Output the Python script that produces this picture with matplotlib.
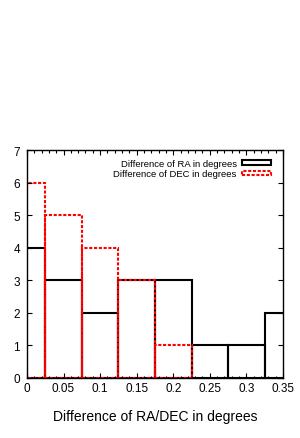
import numpy as np
import matplotlib.pyplot as plt
from matplotlib.patches import Patch
from matplotlib.ticker import MultipleLocator

plt.rcParams['font.family'] = ['Liberation Sans', 'DejaVu Sans']

bin_centers = [0.0, 0.05, 0.10, 0.15, 0.20, 0.25, 0.30, 0.35]
ra_counts = [4, 3, 2, 3, 3, 1, 1, 2]
dec_counts = [6, 5, 4, 3, 1, 0, 0, 0]
xtick_labels = ["0", "0.05", "0.1", "0.15", "0.2", "0.25", "0.3", "0.35"]

fig = plt.figure(figsize=(3.0, 4.39), dpi=100)
ax = fig.add_axes([0.09, 0.1367, 0.853, 0.519])

ax.bar(bin_centers, ra_counts, width=0.05, align='center', fill=False,
       edgecolor='black', linewidth=1.5)
dec_x = [c for c, v in zip(bin_centers, dec_counts) if v > 0]
dec_y = [v for v in dec_counts if v > 0]
ax.bar(dec_x, dec_y, width=0.05, align='center', fill=False,
       edgecolor='red', linewidth=1.5, linestyle=(0, (1.5, 0.8)))

ax.set_xlim(0, 0.35)
ax.set_ylim(0, 7)
ax.set_xticks(bin_centers)
ax.set_xticklabels(xtick_labels)
ax.xaxis.set_minor_locator(MultipleLocator(0.01))
ax.set_yticks(range(8))
ax.tick_params(which='both', direction='in', top=True, right=True, labelsize=8.5)
ax.tick_params(axis='y', pad=5)
ax.tick_params(axis='x', pad=3)
ax.tick_params(which='major', length=3.5, width=0.8)
ax.tick_params(which='minor', length=1.8, width=0.8)
for s in ax.spines.values():
    s.set_linewidth(1.0)

ax.set_xlabel("Difference of RA/DEC in degrees", fontsize=10, labelpad=11)

handles = [Patch(facecolor='none', edgecolor='black', linewidth=1.5),
           Patch(facecolor='none', edgecolor='red', linewidth=1.5, linestyle=(0, (1.5, 0.8)))]
ax.legend(handles, ["Difference of RA in degrees", "Difference of DEC in degrees"],
          loc='upper right', frameon=False, markerfirst=False, fontsize=6.8,
          handlelength=3.0, handleheight=0.35, handletextpad=0.6,
          labelspacing=0.15, borderaxespad=0.3, bbox_to_anchor=(0.978, 0.99))

fig.savefig("out.png", dpi=100)
